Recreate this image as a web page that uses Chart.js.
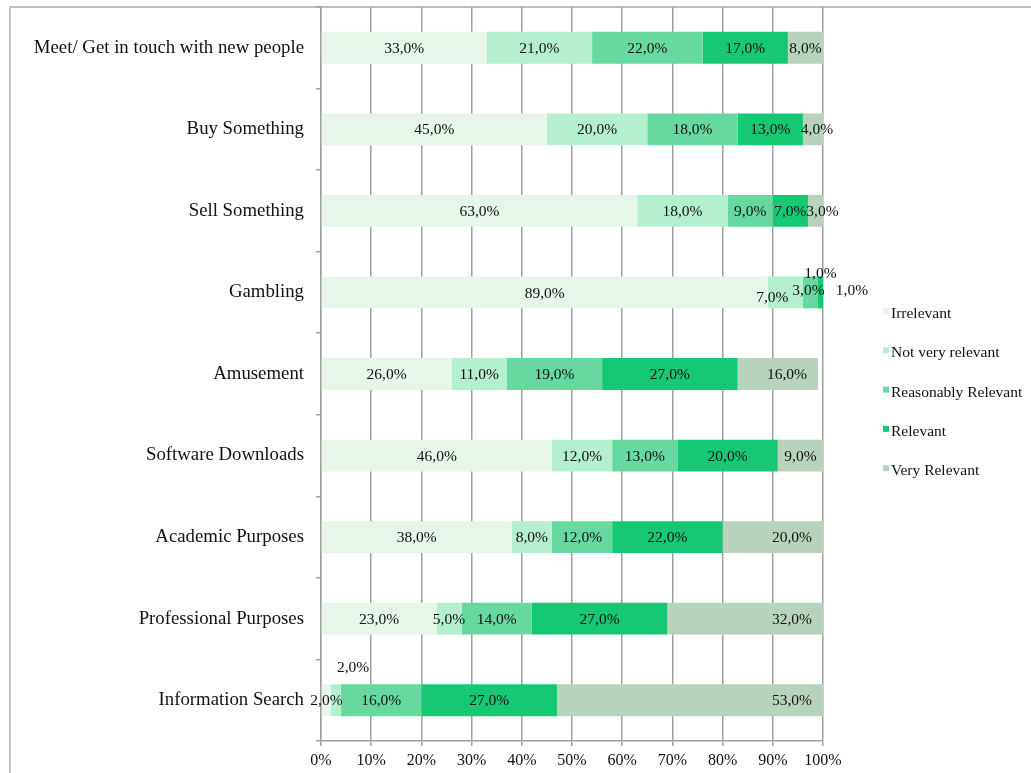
<!DOCTYPE html>
<html>
<head>
<meta charset="utf-8">
<title>Relevance of Internet uses</title>
<script src="https://cdn.jsdelivr.net/npm/chart.js@4/dist/chart.umd.min.js"></script>
<style>
  html, body { margin: 0; padding: 0; background: #ffffff; }
  #wrap { position: relative; width: 1031px; height: 773px; overflow: hidden; }
  #frame {
    position: absolute; left: 9px; top: 6px; right: 0; bottom: 0;
    border-left: 2px solid #c4c4c4; border-top: 2px solid #bdbdbd;
  }
  #c { position: absolute; left: 0; top: 0; }
</style>
</head>
<body>
<div id="wrap">
  <div id="frame"></div>
  <canvas id="c" width="1031" height="773"></canvas>
</div>
<script>
// Purposes of Internet use (one bar each, top to bottom)
const categories = [
  'Meet/ Get in touch with new people',
  'Buy Something',
  'Sell Something',
  'Gambling',
  'Amusement',
  'Software Downloads',
  'Academic Purposes',
  'Professional Purposes',
  'Information Search'
];

// Answer levels, in stacking order
const seriesNames = ['Irrelevant', 'Not very relevant', 'Reasonably Relevant', 'Relevant', 'Very Relevant'];

// Share of respondents (%) per answer level
const irrelevant         = [33, 45, 63, 89, 26, 46, 38, 23, 2];
const notVeryRelevant    = [21, 20, 18, 7, 11, 12, 8, 5, 2];
const reasonablyRelevant = [22, 18, 9, 3, 19, 13, 12, 14, 16];
const relevant           = [17, 13, 7, 1, 27, 20, 22, 27, 27];
const veryRelevant       = [8, 4, 3, 1, 16, 9, 20, 32, 53];

// Axis ticks (percent)
const xTicks = [0, 10, 20, 30, 40, 50, 60, 70, 80, 90, 100];

const seriesValues = [irrelevant, notVeryRelevant, reasonablyRelevant, relevant, veryRelevant];
const seriesColors = ['#e6f6e8', '#b4efd0', '#66d8a0', '#16c874', '#b8d3bc'];

const SERIF = '"Liberation Serif", "Times New Roman", serif';
const TEXT = '#111111';
const GRID = '#a0a0a0';

// Hand placement for labels of very thin segments: [dx, dy] from the segment centre
const labelNudges = {
  'Buy Something': { 4: [4, 0] },
  'Sell Something': { 4: [7, 0] },
  'Gambling': { 1: [-13, 4], 2: [-2, -3], 3: [0, -20], 4: [29, -3] },
  'Information Search': { 1: [17, -33] }
};

function pctLabel(v) {
  return v.toFixed(1).replace('.', ',') + '%';
}

// Value labels inside each stacked segment
const segmentLabels = {
  id: 'segmentLabels',
  afterDatasetsDraw(chart) {
    const { ctx, chartArea } = chart;
    const last = chart.data.datasets.length - 1;
    ctx.save();
    ctx.font = '15.5px ' + SERIF;
    ctx.fillStyle = TEXT;
    ctx.textAlign = 'center';
    ctx.textBaseline = 'middle';
    chart.data.datasets.forEach((ds, di) => {
      const meta = chart.getDatasetMeta(di);
      meta.data.forEach((bar, i) => {
        const text = pctLabel(ds.data[i]);
        const w = ctx.measureText(text).width;
        const start = Math.min(bar.base, chartArea.right);
        const end = Math.min(bar.x, chartArea.right);
        let x = (start + end) / 2;
        let y = bar.y;
        if (di === last && end - start > w + 22) {
          x = end - 11 - w / 2;
        }
        const n = labelNudges[categories[i]] && labelNudges[categories[i]][di];
        if (n) { x += n[0]; y += n[1]; }
        ctx.fillText(text, x, y + 1);
      });
    });
    ctx.restore();
  }
};

// Legend to the right of the plot
const sideLegend = {
  id: 'sideLegend',
  afterDraw(chart) {
    const { ctx, chartArea } = chart;
    const x0 = chartArea.right + 60;
    const y0 = chartArea.top + 307;
    const step = 39.3;
    ctx.save();
    ctx.font = '15.5px ' + SERIF;
    ctx.textBaseline = 'middle';
    ctx.textAlign = 'left';
    chart.data.datasets.forEach((ds, di) => {
      const y = y0 + di * step;
      ctx.fillStyle = ds.backgroundColor;
      ctx.fillRect(x0, y - 6, 6, 6);
      ctx.fillStyle = TEXT;
      ctx.fillText(ds.label, x0 + 8, y);
    });
    ctx.restore();
  }
};

const datasets = seriesNames.map((name, k) => ({
  label: name,
  data: seriesValues[k],
  backgroundColor: seriesColors[k],
  borderWidth: 0,
  barPercentage: 0.39,
  categoryPercentage: 1
}));

new Chart(document.getElementById('c'), {
  type: 'bar',
  data: { labels: categories, datasets },
  plugins: [segmentLabels, sideLegend],
  options: {
    indexAxis: 'y',
    responsive: false,
    animation: false,
    layout: { padding: { top: 7, right: 208, bottom: 0, left: 0 } },
    plugins: {
      legend: { display: false },
      tooltip: { enabled: false }
    },
    scales: {
      x: {
        stacked: true,
        min: 0,
        max: 100,
        afterBuildTicks(scale) {
          scale.ticks = xTicks.map(v => ({ value: v }));
        },
        afterFit(scale) { scale.height = 32; },
        ticks: {
          callback: v => v + '%',
          font: { family: SERIF, size: 16 },
          color: TEXT,
          padding: 5,
          maxRotation: 0
        },
        grid: { color: GRID, lineWidth: 1.5, tickLength: 5, drawTicks: true },
        border: { display: true, color: GRID, width: 1.5 }
      },
      y: {
        stacked: true,
        afterFit(scale) {
          scale.width = 321;
          scale.paddingTop = 0;
          scale.paddingBottom = 0;
        },
        ticks: {
          font: { family: SERIF, size: 18.8 },
          color: TEXT,
          padding: 12
        },
        grid: { drawOnChartArea: false, drawTicks: true, tickLength: 5, color: GRID, lineWidth: 1.5, offset: true },
        border: { display: true, color: GRID, width: 1.5 }
      }
    }
  }
});
</script>
</body>
</html>
